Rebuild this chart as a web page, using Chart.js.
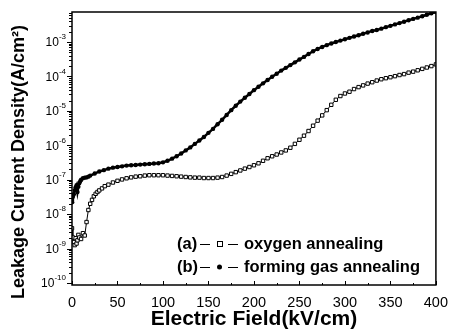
<!DOCTYPE html>
<html>
<head>
<meta charset="utf-8">
<script src="https://cdn.jsdelivr.net/npm/chart.js@4"></script>
<style>
  html, body { margin: 0; padding: 0; background: #fff; }
  #wrap { width: 457px; height: 330px; position: relative; }
</style>
</head>
<body>
<div id="wrap"><canvas id="leakChart"></canvas></div>
<script>
/* Leakage current density vs electric field, two annealing conditions */

// (a) oxygen annealing
const fieldA = [0, 1, 2, 3, 4, 5, 6, 7, 8, 10, 12, 14, 16, 18, 20, 22, 24, 26, 28, 30, 33, 36, 40, 45, 50,
  55, 60, 65, 70, 75, 80, 85, 90, 95, 100, 105, 110, 115, 120, 125, 130, 135, 140, 145, 150, 155, 160,
  165, 170, 175, 180, 185, 190, 195, 200, 205, 210, 215, 220, 225, 230, 235, 240, 245, 250, 255, 260,
  265, 270, 275, 280, 285, 290, 295, 300, 305, 310, 315, 320, 325, 330, 335, 340, 345, 350, 355, 360,
  365, 370, 375, 380, 385, 390, 395, 400];
const oxygenA = [3.9e-9, 2.1e-9, 1.55e-9, 1.26e-9, 2.0e-9, 1.4e-9, 1.74e-9, 2.5e-9, 2.1e-9, 1.9e-9, 2.8e-9,
  2.4e-9, 5.9e-9, 1.32e-8, 2.0e-8, 2.6e-8, 3.3e-8, 3.9e-8, 4.4e-8, 4.9e-8, 5.6e-8, 6.5e-8, 7.2e-8, 8.3e-8,
  9.3e-8, 1.02e-7, 1.1e-7, 1.17e-7, 1.23e-7, 1.26e-7, 1.32e-7, 1.35e-7, 1.35e-7, 1.35e-7, 1.35e-7, 1.32e-7,
  1.29e-7, 1.26e-7, 1.23e-7, 1.2e-7, 1.17e-7, 1.15e-7, 1.15e-7, 1.12e-7, 1.12e-7, 1.12e-7, 1.15e-7, 1.2e-7,
  1.32e-7, 1.48e-7, 1.66e-7, 1.86e-7, 2.1e-7, 2.34e-7, 2.63e-7, 3.0e-7, 3.55e-7, 4.2e-7, 4.8e-7, 5.4e-7,
  6.2e-7, 7.1e-7, 8.5e-7, 1.1e-6, 1.45e-6, 1.9e-6, 2.6e-6, 3.7e-6, 5.2e-6, 7.4e-6, 1.05e-5, 1.5e-5, 2.1e-5,
  2.7e-5, 3.2e-5, 3.6e-5, 4.3e-5, 4.9e-5, 5.5e-5, 6.2e-5, 6.8e-5, 7.6e-5, 8.3e-5, 8.9e-5, 9.5e-5, 1.02e-4,
  1.1e-4, 1.17e-4, 1.29e-4, 1.38e-4, 1.51e-4, 1.66e-4, 1.82e-4, 2.0e-4, 2.24e-4];

// (b) forming gas annealing
const fieldB = [0, 1, 2, 3, 4, 5, 6, 7, 8, 9, 10, 12, 14, 16, 18, 20, 25, 30, 35, 40, 45, 50, 55, 60, 65,
  70, 75, 80, 85, 90, 95, 100, 105, 110, 115, 120, 125, 130, 135, 140, 145, 150, 155, 160, 165, 170, 175,
  180, 185, 190, 195, 200, 205, 210, 215, 220, 225, 230, 235, 240, 245, 250, 255, 260, 265, 270, 275, 280,
  285, 290, 295, 300, 305, 310, 315, 320, 325, 330, 335, 340, 345, 350, 355, 360, 365, 370, 375, 380, 385,
  390, 395, 400];
const formingB = [2.2e-8, 3.2e-8, 3.8e-8, 5.0e-8, 6.0e-8, 6.9e-8, 4.4e-8, 6.3e-8, 7.9e-8, 9.1e-8, 1.0e-7,
  1.1e-7, 1.15e-7, 1.17e-7, 1.23e-7, 1.32e-7, 1.51e-7, 1.74e-7, 1.9e-7, 2.1e-7, 2.24e-7, 2.34e-7, 2.45e-7,
  2.57e-7, 2.63e-7, 2.69e-7, 2.75e-7, 2.82e-7, 2.88e-7, 2.95e-7, 3.0e-7, 3.2e-7, 3.55e-7, 4.1e-7, 4.8e-7,
  5.8e-7, 7.1e-7, 8.7e-7, 1.1e-6, 1.38e-6, 1.74e-6, 2.3e-6, 3.0e-6, 4.1e-6, 5.5e-6, 7.6e-6, 1.05e-5,
  1.41e-5, 1.86e-5, 2.4e-5, 3.1e-5, 4.0e-5, 5.0e-5, 6.3e-5, 7.9e-5, 9.8e-5, 1.2e-4, 1.48e-4, 1.78e-4,
  2.14e-4, 2.57e-4, 3.1e-4, 3.7e-4, 4.5e-4, 5.4e-4, 6.3e-4, 7.2e-4, 8.1e-4, 9.1e-4, 1.0e-3, 1.1e-3, 1.2e-3,
  1.32e-3, 1.45e-3, 1.58e-3, 1.74e-3, 1.9e-3, 2.1e-3, 2.24e-3, 2.45e-3, 2.7e-3, 2.95e-3, 3.25e-3, 3.55e-3,
  3.9e-3, 4.3e-3, 4.7e-3, 5.1e-3, 5.6e-3, 6.2e-3, 6.8e-3, 7.4e-3];

// axes
const xMajorTicks = [0, 50, 100, 150, 200, 250, 300, 350, 400];
const xMinorTicks = [25, 75, 125, 175, 225, 275, 325, 375];
const yDecades = [-10, -9, -8, -7, -6, -5, -4, -3];
const yMinorSteps = [2, 3, 4, 5, 6, 7, 8, 9];
const yMin = 8.75e-11;
const yMax = 7.45e-3;

const legendRows = [
  { tag: '(a)', label: 'oxygen annealing', marker: 'square' },
  { tag: '(b)', label: 'forming gas annealing', marker: 'dot' },
];

const FONT = '"Liberation Sans", Arial, sans-serif';

const decor = {
  id: 'decor',
  afterDraw(chart) {
    const { ctx, chartArea: a, scales: { x, y } } = chart;
    ctx.save();
    ctx.strokeStyle = '#000';
    ctx.fillStyle = '#000';

    // frame
    ctx.lineWidth = 1.5;
    ctx.strokeRect(a.left, a.top, a.right - a.left, a.bottom - a.top);

    // x ticks (inward)
    ctx.lineWidth = 1;
    ctx.beginPath();
    xMajorTicks.forEach((v) => {
      const px = Math.round(x.getPixelForValue(v)) + 0.5;
      ctx.moveTo(px, a.bottom); ctx.lineTo(px, a.bottom - 4);
    });
    xMinorTicks.forEach((v) => {
      const px = Math.round(x.getPixelForValue(v)) + 0.5;
      ctx.moveTo(px, a.bottom); ctx.lineTo(px, a.bottom - 2);
    });
    ctx.stroke();

    // y ticks (outward) + labels
    ctx.beginPath();
    yDecades.forEach((e) => {
      const base = Math.pow(10, e);
      const py = Math.round(y.getPixelForValue(base)) + 0.5;
      ctx.moveTo(a.left, py); ctx.lineTo(a.left - 5, py);
      yMinorSteps.forEach((m) => {
        const v = base * m;
        if (v > yMax) return;
        const pm = Math.round(y.getPixelForValue(v)) + 0.5;
        ctx.moveTo(a.left, pm); ctx.lineTo(a.left - 3, pm);
      });
    });
    ctx.stroke();

    ctx.textBaseline = 'middle';
    yDecades.forEach((e) => {
      const py = y.getPixelForValue(Math.pow(10, e));
      const sup = String(e);
      ctx.font = '8px ' + FONT;
      const sw = ctx.measureText(sup).width;
      ctx.textAlign = 'left';
      ctx.fillText(sup, a.left - 6 - sw, py - 5);
      ctx.font = '12px ' + FONT;
      ctx.textAlign = 'right';
      ctx.fillText('10', a.left - 6 - sw, py + 1);
    });

    // y title
    ctx.save();
    ctx.translate(19, 162);
    ctx.rotate(-Math.PI / 2);
    ctx.textAlign = 'center';
    ctx.font = 'bold 18px ' + FONT;
    ctx.fillText('Leakage Current Density(A/cm²)', 0, 0);
    ctx.restore();

    // legend
    legendRows.forEach((r, i) => {
      const ly = 244 + i * 23;
      ctx.font = 'bold 16.5px ' + FONT;
      ctx.textAlign = 'left';
      ctx.fillText(r.tag, 177, ly);
      ctx.lineWidth = 1.2;
      ctx.beginPath();
      ctx.moveTo(200, ly + 0.5); ctx.lineTo(210, ly + 0.5);
      ctx.moveTo(228, ly + 0.5); ctx.lineTo(238, ly + 0.5);
      ctx.stroke();
      ctx.lineWidth = 1;
      if (r.marker === 'square') {
        ctx.fillStyle = '#fff';
        ctx.fillRect(217, ly - 2, 5, 5);
        ctx.strokeRect(217.5, ly - 2.5, 5, 5);
        ctx.fillStyle = '#000';
      } else {
        ctx.beginPath();
        ctx.arc(219.5, ly, 2.5, 0, Math.PI * 2);
        ctx.fill();
      }
      ctx.fillText(r.label, 244, ly);
    });
    ctx.restore();
  },
};

new Chart(document.getElementById('leakChart'), {
  type: 'line',
  data: {
    datasets: [
      {
        label: 'oxygen annealing',
        data: fieldA.map((v, i) => ({ x: v, y: oxygenA[i] })),
        borderColor: '#000',
        borderWidth: 1,
        pointStyle: 'rect',
        pointRadius: 2.4,
        pointBackgroundColor: '#fff',
        pointBorderColor: '#000',
        pointBorderWidth: 1,
        tension: 0,
      },
      {
        label: 'forming gas annealing',
        data: fieldB.map((v, i) => ({ x: v, y: formingB[i] })),
        borderColor: '#000',
        borderWidth: 2.5,
        pointStyle: 'circle',
        pointRadius: 2.2,
        pointBackgroundColor: '#000',
        pointBorderColor: '#000',
        pointBorderWidth: 0,
        tension: 0,
      },
    ],
  },
  options: {
    responsive: true,
    maintainAspectRatio: false,
    animation: false,
    layout: { padding: { left: 0, right: 14, top: 12, bottom: 0 } },
    plugins: { legend: { display: false }, tooltip: { enabled: false } },
    scales: {
      x: {
        type: 'linear',
        min: 0,
        max: 400,
        afterBuildTicks: (s) => { s.ticks = xMajorTicks.map((v) => ({ value: v })); },
        afterFit: (s) => { s.height = 45; },
        ticks: { color: '#000', font: { size: 14.5, family: FONT }, padding: 9, maxRotation: 0 },
        grid: { display: false, drawTicks: false },
        border: { display: false },
        title: {
          display: true,
          text: 'Electric Field(kV/cm)',
          color: '#000',
          font: { size: 21, weight: 'bold', family: FONT, lineHeight: 1 },
          padding: { top: 0, bottom: 0 },
        },
      },
      y: {
        type: 'logarithmic',
        min: yMin,
        max: yMax,
        afterFit: (s) => { s.width = 72; },
        ticks: { display: false },
        grid: { display: false, drawTicks: false },
        border: { display: false },
      },
    },
  },
  plugins: [decor],
});
</script>
</body>
</html>
